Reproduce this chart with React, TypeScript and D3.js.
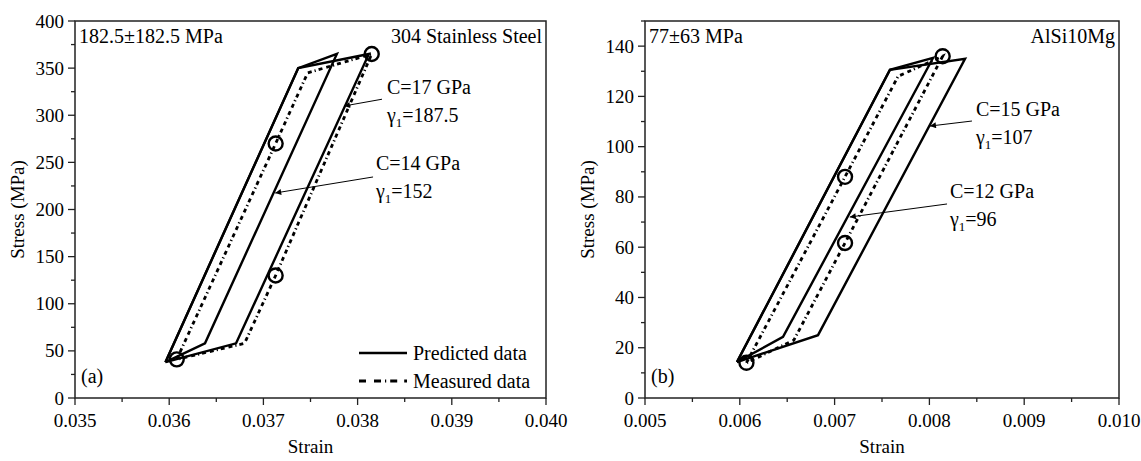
import React from "react";
import * as d3 from "d3";

// ---------- Data ----------
// Panel (a): 304 Stainless Steel
const aXTicks = [0.035, 0.036, 0.037, 0.038, 0.039, 0.04];
const aYTicks = [0, 50, 100, 150, 200, 250, 300, 350, 400];
const aPredOuterStrain = [0.03596, 0.03737, 0.03812, 0.03671, 0.03596];
const aPredOuterStress = [38, 350, 365, 58, 38];
const aPredInnerStrain = [0.03596, 0.03737, 0.03778, 0.03638, 0.03596];
const aPredInnerStress = [38, 350, 365, 58, 38];
const aMeasStrain = [0.03608, 0.03713, 0.03747, 0.03815, 0.03713, 0.0368, 0.03608];
const aMeasStress = [41, 270, 345, 365, 130, 58, 41];
const aCircleStrain = [0.03608, 0.03713, 0.03815, 0.03713];
const aCircleStress = [41, 270, 365, 130];

// Panel (b): AlSi10Mg
const bXTicks = [0.005, 0.006, 0.007, 0.008, 0.009, 0.01];
const bYTicks = [0, 20, 40, 60, 80, 100, 120, 140];
const bPredOuterStrain = [0.00597, 0.007584, 0.008376, 0.006825, 0.00597];
const bPredOuterStress = [14.3, 130.6, 135, 25, 14.3];
const bPredInnerStrain = [0.00597, 0.007584, 0.008038, 0.006456, 0.00597];
const bPredInnerStress = [14.3, 130.6, 135.3, 24.3, 14.3];
const bMeasStrain = [0.00607, 0.00711, 0.00767, 0.00814, 0.00711, 0.00657, 0.00607];
const bMeasStress = [14, 88, 128, 136, 61.7, 23, 14];
const bCircleStrain = [0.00607, 0.00711, 0.00814, 0.00711];
const bCircleStress = [14, 88, 136, 61.7];

const FONT = '"Liberation Serif", "Times New Roman", Times, "DejaVu Serif", serif';

type Ann = {
  c: string;
  g: string;
  tx: number;
  ty: number;
  from: [number, number];
  to: [number, number];
};

type PanelProps = {
  x0: number;
  x1: number;
  xDomain: [number, number];
  yDomain: [number, number];
  xTicks: number[];
  yTicks: number[];
  xMinorStep: number;
  yMinorStep: number;
  predOuter: [number[], number[]];
  predInner: [number[], number[]];
  meas: [number[], number[]];
  circles: [number[], number[]];
  tl: string;
  tr: string;
  tag: string;
  anns: Ann[];
  legend: boolean;
  yLabelX: number;
};

const TOP = 21;
const BOTTOM = 398;

function Panel(p: PanelProps) {
  const x = d3.scaleLinear().domain(p.xDomain).range([p.x0, p.x1]);
  const y = d3.scaleLinear().domain(p.yDomain).range([BOTTOM, TOP]);
  const line = d3
    .line<[number, number]>()
    .x((d) => x(d[0]))
    .y((d) => y(d[1]));
  const zip = (a: [number[], number[]]) =>
    a[0].map((v, i) => [v, a[1][i]] as [number, number]);

  const xMinor = d3
    .range(p.xDomain[0], p.xDomain[1] + 1e-9, p.xMinorStep)
    .filter((v) => !p.xTicks.some((t) => Math.abs(t - v) < 1e-9));
  const yMinor = d3
    .range(p.yDomain[0], p.yDomain[1] + 1e-9, p.yMinorStep)
    .filter((v) => !p.yTicks.some((t) => Math.abs(t - v) < 1e-9));

  const dash = "4,4,4,3,1.2,3";

  return (
    <g style={{ fontFamily: FONT }} fill="#000">
      <rect
        x={p.x0}
        y={TOP}
        width={p.x1 - p.x0}
        height={BOTTOM - TOP}
        fill="none"
        stroke="#222"
        strokeWidth={1.5}
      />
      {p.xTicks.map((t) => (
        <g key={"xt" + t}>
          <line x1={x(t)} x2={x(t)} y1={BOTTOM} y2={BOTTOM + 7} stroke="#222" strokeWidth={1.3} />
          <text x={x(t)} y={427} textAnchor="middle" fontSize={19}>
            {t.toFixed(3)}
          </text>
        </g>
      ))}
      {xMinor.map((t) => (
        <line key={"xm" + t} x1={x(t)} x2={x(t)} y1={BOTTOM} y2={BOTTOM + 4} stroke="#222" strokeWidth={1.3} />
      ))}
      {p.yTicks.map((t) => (
        <g key={"yt" + t}>
          <line x1={p.x0 - 7} x2={p.x0} y1={y(t)} y2={y(t)} stroke="#222" strokeWidth={1.3} />
          <text x={p.x0 - 11} y={y(t) + 6.5} textAnchor="end" fontSize={19}>
            {t}
          </text>
        </g>
      ))}
      {yMinor.map((t) => (
        <line key={"ym" + t} x1={p.x0 - 4} x2={p.x0} y1={y(t)} y2={y(t)} stroke="#222" strokeWidth={1.3} />
      ))}
      <text x={(p.x0 + p.x1) / 2} y={453} textAnchor="middle" fontSize={19}>
        Strain
      </text>
      <text
        transform={`translate(${p.yLabelX},${(TOP + BOTTOM) / 2}) rotate(-90)`}
        textAnchor="middle"
        fontSize={19}
      >
        Stress (MPa)
      </text>

      <path d={line(zip(p.predInner)) || ""} fill="none" stroke="#000" strokeWidth={2.4} strokeLinejoin="miter" />
      <path d={line(zip(p.predOuter)) || ""} fill="none" stroke="#000" strokeWidth={2.4} strokeLinejoin="miter" />
      <path d={line(zip(p.meas)) || ""} fill="none" stroke="#000" strokeWidth={2.8} strokeDasharray={dash} />
      {zip(p.circles).map((d, i) => (
        <circle key={"c" + i} cx={x(d[0])} cy={y(d[1])} r={7} fill="none" stroke="#000" strokeWidth={2.4} />
      ))}

      <text x={p.x0 + 4} y={43} fontSize={20}>
        {p.tl}
      </text>
      <text x={p.x1 - 4} y={43} fontSize={20} textAnchor="end">
        {p.tr}
      </text>
      <text x={p.x0 + 6} y={383} fontSize={20}>
        {p.tag}
      </text>

      {p.anns.map((a, i) => (
        <g key={"a" + i}>
          <line
            x1={x(a.from[0])}
            y1={y(a.from[1])}
            x2={x(a.to[0])}
            y2={y(a.to[1])}
            stroke="#000"
            strokeWidth={1}
            markerEnd="url(#arrowHead)"
          />
          <text x={x(a.tx)} y={y(a.ty)} fontSize={20}>
            {a.c}
          </text>
          <text x={x(a.tx)} y={y(a.ty) + 28} fontSize={20}>
            γ
            <tspan dy={5} fontSize={13}>
              1
            </tspan>
            <tspan dy={-5}>{"=" + a.g}</tspan>
          </text>
        </g>
      ))}

      {p.legend && (
        <g>
          <line x1={359} x2={407} y1={353} y2={353} stroke="#000" strokeWidth={2.4} />
          <text x={413} y={360} fontSize={20}>
            Predicted data
          </text>
          <line x1={359} x2={407} y1={381} y2={381} stroke="#000" strokeWidth={2.8} strokeDasharray="7,8,7,4,1.2,4,7" />
          <text x={413} y={388} fontSize={20}>
            Measured data
          </text>
        </g>
      )}
    </g>
  );
}

export default function App() {
  const annsA: Ann[] = [
    { c: "C=17 GPa", g: "187.5", tx: 0.038311, ty: 322.6, from: [0.038259, 317], to: [0.037855, 309.8] },
    { c: "C=14 GPa", g: "152", tx: 0.038195, ty: 241.9, from: [0.038164, 234.5], to: [0.037125, 217.5] },
  ];
  const annsB: Ann[] = [
    { c: "C=15 GPa", g: "107", tx: 0.008491, ty: 112.2, from: [0.008449, 110.2], to: [0.008006, 108.2] },
    { c: "C=12 GPa", g: "96", tx: 0.008217, ty: 79.6, from: [0.008186, 77.2], to: [0.00716, 72.0] },
  ];
  return (
    <svg
      width={1141}
      height={461}
      style={{ position: "absolute", left: 0, top: 0, background: "#fff", fontFamily: FONT }}
    >
      <defs>
        <marker
          id="arrowHead"
          viewBox="0 0 10 10"
          refX={10}
          refY={5}
          markerWidth={9}
          markerHeight={6}
          markerUnits="userSpaceOnUse"
          orient="auto"
        >
          <path d="M0,0 L10,5 L0,10 z" fill="#000" />
        </marker>
      </defs>
      <rect width={1141} height={461} fill="#fff" />
      <Panel
        x0={75}
        x1={546}
        xDomain={[0.035, 0.04]}
        yDomain={[0, 400]}
        xTicks={aXTicks}
        yTicks={aYTicks}
        xMinorStep={0.0005}
        yMinorStep={25}
        predOuter={[aPredOuterStrain, aPredOuterStress]}
        predInner={[aPredInnerStrain, aPredInnerStress]}
        meas={[aMeasStrain, aMeasStress]}
        circles={[aCircleStrain, aCircleStress]}
        tl="182.5±182.5 MPa"
        tr="304 Stainless Steel"
        tag="(a)"
        anns={annsA}
        legend={true}
        yLabelX={24}
      />
      <Panel
        x0={645}
        x1={1119}
        xDomain={[0.005, 0.01]}
        yDomain={[0, 150]}
        xTicks={bXTicks}
        yTicks={bYTicks}
        xMinorStep={0.0005}
        yMinorStep={10}
        predOuter={[bPredOuterStrain, bPredOuterStress]}
        predInner={[bPredInnerStrain, bPredInnerStress]}
        meas={[bMeasStrain, bMeasStress]}
        circles={[bCircleStrain, bCircleStress]}
        tl="77±63 MPa"
        tr="AlSi10Mg"
        tag="(b)"
        anns={annsB}
        legend={false}
        yLabelX={594}
      />
    </svg>
  );
}
